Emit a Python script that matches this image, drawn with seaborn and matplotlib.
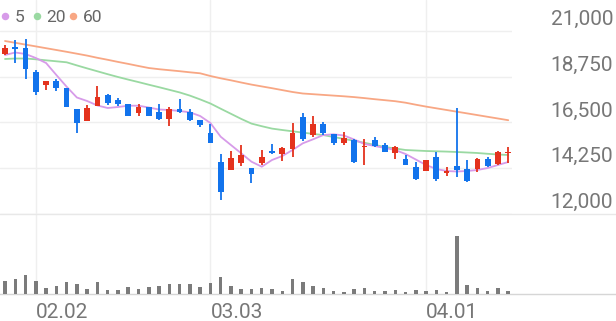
import numpy as np
import pandas as pd
import matplotlib
matplotlib.use("Agg")
import matplotlib.pyplot as plt
import matplotlib.transforms as mtransforms
import seaborn as sns

# ---------------- data ----------------
opens = [19869, 20228, 20149, 18998, 18344, 18541, 18211, 17149, 16588, 17311,
         17852, 17606, 17393, 16952, 17248, 17031, 16657, 17179, 17031, 16623,
         15998, 14572, 14164, 14493, 14248, 14493, 15098, 14951, 15182, 16756,
         15885, 16426, 15934, 15507, 15639, 15280, 15639, 15393, 14985, 14690,
         14297, 14130, 14789, 14031, 14375, 14198, 14198, 14690, 14444, 14985]
highs = [20311, 20557, 20592, 19082, 18556, 18625, 18211, 17149, 17346, 18295,
         17901, 17690, 17420, 17409, 17277, 17395, 17277, 17641, 17179, 16623,
         16411, 14951, 15113, 15393, 14248, 15148, 15428, 15310, 16490, 16982,
         16820, 16539, 15934, 16048, 15674, 15674, 15772, 15477, 15344, 14902,
         14572, 14656, 15064, 14326, 17198, 14656, 14739, 14818, 15113, 15310]
lows = [19820, 19441, 18625, 17852, 18098, 18049, 17248, 15998, 16588, 17311,
        17360, 17311, 16800, 16820, 16800, 16623, 16343, 16982, 16588, 16293,
        15477, 12689, 14164, 14361, 13510, 14410, 14951, 14621, 14789, 15605,
        15772, 15885, 15393, 15393, 14523, 14410, 15310, 15034, 14690, 14410,
        13672, 14100, 13638, 13869, 13805, 13589, 14080, 14326, 14410, 14523]
closes = [20149, 20130, 19116, 17985, 18556, 18182, 17277, 16490, 17228, 17769,
          17474, 17409, 16820, 17277, 16820, 16657, 17149, 17031, 16623, 16362,
          15477, 13097, 14769, 14902, 13967, 14789, 15015, 15261, 15969, 15674,
          16426, 15998, 15477, 15723, 14572, 15344, 15344, 15064, 15310, 14410,
          13707, 14656, 13707, 14115, 14164, 13638, 14690, 14361, 15064, 15064]
ma5 = [19820, 19943, 19869, 19672, 19426, 18836, 18261, 17729, 17557, 17336,
       17213, 17262, 17326, 17326, 17238, 17139, 17115, 17066, 17002, 16820,
       16475, 15802, 15393, 14985, 14572, 14326, 14656, 14852, 15148, 15477,
       15674, 15885, 15920, 15861, 15664, 15443, 15344, 15246, 15148, 14951,
       14680, 14410, 14213, 14115, 14090, 14115, 14164, 14262, 14410, 14557]
ma20 = [19623, 19647, 19647, 19608, 19559, 19510, 19461, 19308, 19161, 19018,
        18875, 18738, 18610, 18487, 18359, 18236, 18108, 17980, 17823, 17636,
        17434, 17179, 16928, 16677, 16446, 16318, 16200, 16131, 16067, 16003,
        15939, 15880, 15787, 15693, 15600, 15502, 15398, 15295, 15221, 15148,
        15123, 15098, 15084, 15069, 15049, 15025, 15000, 14961, 14926, 14902]
ma60 = [20508, 20420, 20331, 20243, 20154, 20066, 19977, 19884, 19790, 19682,
        19584, 19480, 19382, 19279, 19180, 19121, 19072, 19023, 18969, 18920,
        18787, 18674, 18575, 18467, 18364, 18275, 18187, 18093, 18000, 17926,
        17892, 17857, 17823, 17789, 17749, 17700, 17646, 17597, 17547, 17474,
        17375, 17282, 17198, 17115, 17031, 16948, 16864, 16780, 16697, 16613]
volume = [123, 150, 190, 130, 53, 80, 117, 97, 50, 117,
          37, 37, 67, 47, 70, 73, 100, 97, 100, 67,
          110, 170, 73, 43, 50, 57, 43, 30, 143, 113,
          80, 57, 30, 20, 43, 53, 30, 27, 40, 20,
          33, 30, 33, 13, 577, 83, 60, 23, 53, 23]
tick_pos = [3, 20, 41]
tick_labels = ["02.02", "03.03", "04.01"]
price_ticks = [12000, 14250, 16500, 18750, 21000]
ma_labels = ["5", "20", "60"]

# ---------------- style ----------------
RED = "#e4321d"
BLUE = "#1273ec"
MA_COLORS = ["#d79be9", "#9ad9a2", "#f8a784"]
GRID = "#efefef"
TXT = "#777777"

sns.set_style("white")
plt.rcParams["font.family"] = ["Roboto", "DejaVu Sans"]

W, H = 616, 321
fig = plt.figure(figsize=(W / 100, H / 100), dpi=100)


def px_rect(x0, y0, x1, y1):
    return [x0 / W, 1 - y1 / H, (x1 - x0) / W, (y1 - y0) / H]


STEP, X0 = 10.27, 5.0
axv = fig.add_axes(px_rect(0, 214, 616, 293.5))
ax = fig.add_axes(px_rect(0, 0, 512, 214))
for a in (ax, axv):
    a.patch.set_alpha(0)

idx = np.arange(len(closes))
df = pd.DataFrame({"i": idx, "open": opens, "high": highs, "low": lows,
                   "close": closes, "ma5": ma5, "ma20": ma20, "ma60": ma60,
                   "vol": volume})

# ---------------- price panel ----------------
ax.set_xlim(-X0 / STEP, (512 - X0) / STEP)
ax.set_ylim(12000, 12000 + 214 * 9000 / 183)
ax.set_yticks(price_ticks)
ax.set_xticks(tick_pos)
ax.grid(True, color=GRID, lw=1)
ax.tick_params(left=False, bottom=False, labelleft=False, labelbottom=False)
for s in ax.spines.values():
    s.set_visible(False)

for col, c in zip(["ma60", "ma20", "ma5"], MA_COLORS[::-1]):
    sns.lineplot(data=df, x="i", y=col, ax=ax, color=c, lw=1.3, zorder=3)
ax.set_xlabel("")
ax.set_ylabel("")

up = df["close"] >= df["open"]
colors = np.where(up, RED, BLUE)
ax.vlines(df["i"], df["low"], df["high"], colors=colors, lw=1.3, zorder=4)
body_lo = np.minimum(df["open"], df["close"])
body_h = np.maximum(np.abs(df["close"] - df["open"]), 70)
ax.bar(df["i"], body_h, bottom=body_lo, width=0.56, color=colors, zorder=5,
       linewidth=0)

# right side price labels (above gridlines)
base = mtransforms.blended_transform_factory(fig.transFigure, ax.transData)
trans = mtransforms.offset_copy(base, fig=fig, y=6, units="dots")
for v in price_ticks:
    ax.text(613 / W, v, f"{v:,}", transform=trans, ha="right", va="baseline",
            fontsize=15, color=TXT, clip_on=False)

# legend
for lab, c, dx, tx in zip(ma_labels, MA_COLORS, [5, 37.3, 73.3], [15, 46, 82.5]):
    ax.plot([dx / W], [1 - 15.7 / H], marker="o", ms=5.4, color=c,
            markeredgewidth=0, transform=fig.transFigure, clip_on=False)
    fig.text(tx / W, 1 - 15.7 / H, lab, ha="left", va="center_baseline",
             fontsize=12.5, color="#666666")

# ---------------- volume panel ----------------
sns.barplot(data=df, x="i", y="vol", ax=axv, color="#7b7b7b", width=0.34,
            saturation=1, linewidth=0, zorder=3)
axv.set_xlim(-X0 / STEP, (616 - X0) / STEP)
axv.set_ylim(0, 795)
axv.set_xticks(tick_pos)
axv.set_xticklabels([])
axv.set_yticks([])
axv.grid(True, axis="x", color=GRID, lw=1)
axv.tick_params(left=False, bottom=False, labelleft=False, labelbottom=False)
axv.set_xlabel("")
axv.set_ylabel("")
for k in ("left", "right"):
    axv.spines[k].set_visible(False)
axv.spines["top"].set_color("#e8e8e8")
axv.spines["bottom"].set_color("#d6d6d6")
axv.spines["top"].set_linewidth(1)
axv.spines["bottom"].set_linewidth(1)

xtrans = mtransforms.blended_transform_factory(axv.transData, fig.transFigure)
for p, lab in zip(tick_pos, tick_labels):
    axv.text(p, 1 - 318.5 / H, lab, transform=xtrans, ha="left", va="baseline",
             fontsize=15, color=TXT, clip_on=False)

fig.savefig("out.png", dpi=100)
